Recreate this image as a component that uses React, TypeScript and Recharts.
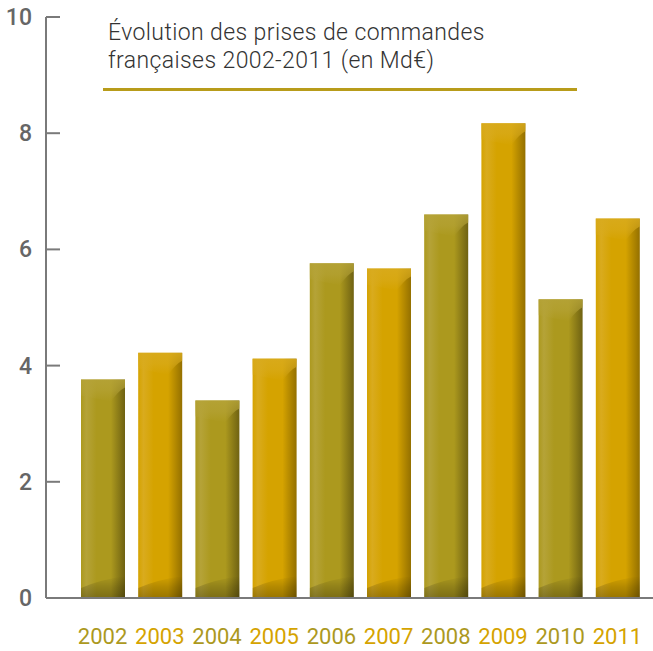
import React from 'react';
import { BarChart, Bar, XAxis, YAxis } from 'recharts';

// Values (Md€)
const YEARS = ['2002', '2003', '2004', '2005', '2006', '2007', '2008', '2009', '2010', '2011'];
const ORDERS = [3.76, 4.22, 3.4, 4.12, 5.76, 5.67, 6.6, 8.17, 5.14, 6.53];
const Y_TICKS = [0, 2, 4, 6, 8, 10];
const TITLE_LINES = ['Évolution des prises de commandes', 'françaises 2002-2011 (en Md€)'];

const OLIVE = '#ac991e';
const GOLD = '#d5a300';
const AXIS = '#7a7a7a';
const FONT = 'Roboto, "Open Sans", sans-serif';

const data = YEARS.map((year, i) => ({ year, value: ORDERS[i] }));

const tones = (i: number) =>
    i % 2 === 0
        ? { base: OLIVE, light: '#b5a338', dark: '#6f6212' }
        : { base: GOLD, light: '#d9ab1e', dark: '#947000' };

// Shaded bar: flat front, darker right edge, lighter cap, shadow at the foot.
const ShadedBar = (props: any) => {
    const { x, y, width, height, index } = props;
    if (!height || height <= 0) return null;
    const t = tones(index);
    const h = `h${index}`, top = `t${index}`, foot = `f${index}`;
    const capL = Math.min(16, height), capR = Math.min(8, height), capM = Math.min(22, height);
    const cap = `M${x},${y} H${x + width} V${y + capR} Q${x + width * 0.86},${y + capR + 3} ${x + width * 0.68},${y + capM} L${x},${y + capL} Z`;
    return (
        <g>
            <defs>
                <linearGradient id={h} x1="0" y1="0" x2="1" y2="0">
                    <stop offset="0" stopColor={t.base} />
                    <stop offset="0.12" stopColor={t.light} stopOpacity={1} />
                    <stop offset="0.35" stopColor={t.base} />
                    <stop offset="0.68" stopColor={t.base} />
                    <stop offset="1" stopColor={t.dark} />
                </linearGradient>
                <linearGradient id={top} x1="0" y1="0" x2="0" y2="1">
                    <stop offset="0" stopColor={t.light} stopOpacity={0.85} />
                    <stop offset="0.5" stopColor={t.light} stopOpacity={0.6} />
                    <stop offset="1" stopColor={t.light} stopOpacity={0} />
                </linearGradient>
                <linearGradient id={foot} x1="0" y1="0" x2="0" y2="1">
                    <stop offset="0" stopColor="#000000" stopOpacity={0} />
                    <stop offset="0.5" stopColor="#000000" stopOpacity={0.16} />
                    <stop offset="1" stopColor="#000000" stopOpacity={0.28} />
                </linearGradient>
            </defs>
            <rect x={x} y={y} width={width} height={height} fill={`url(#${h})`} />
            <path d={cap} fill={`url(#${top})`} />
            <path d={`M${x},${y + height} V${y + height - 10} Q${x + width * 0.4},${y + height - 18} ${x + width},${y + height - 22} V${y + height} Z`}
                fill={`url(#${foot})`} />
        </g>
    );
};

const YearTick = (props: any) => {
    const { x, y, payload, index } = props;
    return (
        <text x={x} y={y + 46} textAnchor="middle" fontFamily={FONT} fontSize={22} fontWeight={400}
            fill={index % 2 === 0 ? OLIVE : GOLD}>
            {payload.value}
        </text>
    );
};

const ValueTick = (props: any) => {
    const { x, y, payload } = props;
    return (
        <g>
            <line x1={x + 10} x2={x + 24} y1={y} y2={y} stroke={AXIS} strokeWidth={2} />
            <text x={x - 4} y={y + 8} textAnchor="end" fontFamily={FONT} fontSize={23} fontWeight={500} fill="#666">
                {payload.value}
            </text>
        </g>
    );
};

export default function App() {
    return (
        <div style={{ position: 'absolute', left: 0, top: 0, width: 653, height: 651, background: '#fff' }}>
            <BarChart width={653} height={651} data={data} barSize={44}
                margin={{ top: 17, right: 0, bottom: 0, left: 0 }}>
                <XAxis dataKey="year" height={53} tickLine={false} tickSize={0} tickMargin={0}
                    axisLine={{ stroke: AXIS, strokeWidth: 2 }} padding={{ left: 28, right: 7 }}
                    tick={<YearTick />} interval={0} />
                <YAxis width={46} domain={[0, 10]} ticks={Y_TICKS} tickLine={false} tickSize={0} tickMargin={10}
                    axisLine={{ stroke: AXIS, strokeWidth: 2 }} tick={<ValueTick />} interval={0} />
                <Bar dataKey="value" shape={<ShadedBar />} isAnimationActive={false} />
            </BarChart>
            <div style={{ position: 'absolute', left: 108, top: 19, fontFamily: FONT, fontWeight: 300,
                fontSize: 23, lineHeight: '28px', letterSpacing: 0.4, color: '#333', whiteSpace: 'nowrap' }}>
                {TITLE_LINES.map(l => <div key={l}>{l}</div>)}
            </div>
            <div style={{ position: 'absolute', left: 103, top: 88, width: 474, height: 3, background: '#b89c1a' }} />
        </div>
    );
}
